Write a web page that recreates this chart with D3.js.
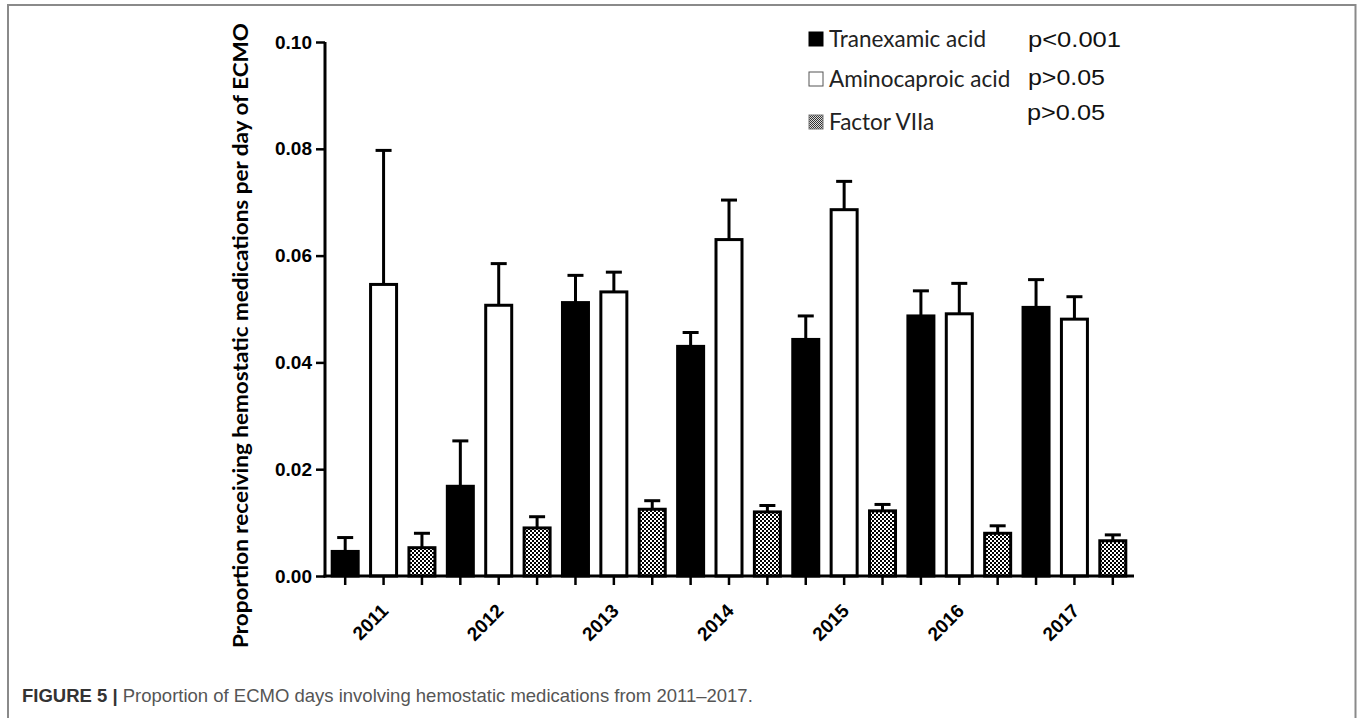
<!DOCTYPE html>
<html><head><meta charset="utf-8">
<script src="https://cdn.jsdelivr.net/npm/d3@7"></script>
<style>
html,body{margin:0;padding:0;background:#fff;}
svg{display:block;}
</style></head>
<body>
<svg id="chart" width="1360" height="718"></svg>
<script>
// ---------- data ----------
const years = ["2011","2012","2013","2014","2015","2016","2017"];
const seriesNames = ["Tranexamic acid","Aminocaproic acid","Factor VIIa"];
const pValues = ["p<0.001","p>0.05","p>0.05"];
const tranexamic    = [0.0046, 0.0168, 0.0512, 0.0430, 0.0443, 0.0487, 0.0503];
const tranexamicErr = [0.0026, 0.0085, 0.0051, 0.0026, 0.0044, 0.0047, 0.0052];
const aminocaproic    = [0.0546, 0.0507, 0.0532, 0.0630, 0.0686, 0.0491, 0.0481];
const aminocaproicErr = [0.0251, 0.0078, 0.0037, 0.0074, 0.0053, 0.0057, 0.0042];
const factor7    = [0.0053, 0.0090, 0.0125, 0.0120, 0.0122, 0.0080, 0.0066];
const factor7Err = [0.0027, 0.0021, 0.0016, 0.0012, 0.0012, 0.0014, 0.0011];
const yTicks = [0.00, 0.02, 0.04, 0.06, 0.08, 0.10];
const yTitle = "Proportion receiving hemostatic medications per day of ECMO";
const captionBold = "FIGURE 5 |";
const captionText = " Proportion of ECMO days involving hemostatic medications from 2011\u20132017.";

const seriesVals = [tranexamic, aminocaproic, factor7];
const seriesErrs = [tranexamicErr, aminocaproicErr, factor7Err];
const rows = [];
years.forEach((yr, i) => seriesNames.forEach((s, j) => rows.push({year: yr, series: s, sIdx: j, v: seriesVals[j][i], e: seriesErrs[j][i]})));

// ---------- setup ----------
const svg = d3.select("#chart");
const defs = svg.append("defs");
const pat = defs.append("pattern").attr("id","checker").attr("patternUnits","userSpaceOnUse")
  .attr("width",4).attr("height",4);
pat.append("rect").attr("width",4).attr("height",4).attr("fill","#fff");
pat.append("rect").attr("width",2).attr("height",2).attr("fill","#000");
pat.append("rect").attr("x",2).attr("y",2).attr("width",2).attr("height",2).attr("fill","#000");
const pat2 = defs.append("pattern").attr("id","checkerSmall").attr("patternUnits","userSpaceOnUse")
  .attr("width",2).attr("height",2);
pat2.append("rect").attr("width",2).attr("height",2).attr("fill","#ddd");
pat2.append("rect").attr("width",1).attr("height",1).attr("fill","#333");
pat2.append("rect").attr("x",1).attr("y",1).attr("width",1).attr("height",1).attr("fill","#333");

// frame
svg.append("path").attr("d","M8,718 V5 H1355.5 V718").attr("fill","none").attr("stroke","#8a8a8a").attr("stroke-width",2);

const x0 = d3.scaleBand().domain(years).range([326, 1132]).paddingInner(0).paddingOuter(0);
const x1 = d3.scaleBand().domain(seriesNames).range([0, x0.bandwidth()]).paddingInner(0).paddingOuter(0);
const y = d3.scaleLinear().domain([0, 0.10]).range([576, 42]);
const barW = 26;
const fills = ["#000", "#fff", "url(#checker)"];

// bars
const g = svg.append("g");
const cx = d => x0(d.year) + x1(d.series) + x1.bandwidth()/2;
// error bars (upper only)
g.selectAll("line.err").data(rows).join("line").attr("class","err")
  .attr("x1", cx).attr("x2", cx).attr("y1", d => y(d.v)).attr("y2", d => y(d.v + d.e))
  .attr("stroke","#000").attr("stroke-width",3);
g.selectAll("line.cap").data(rows).join("line").attr("class","cap")
  .attr("x1", d => cx(d) - 8).attr("x2", d => cx(d) + 8).attr("y1", d => y(d.v + d.e)).attr("y2", d => y(d.v + d.e))
  .attr("stroke","#000").attr("stroke-width",3);
g.selectAll("rect.bar").data(rows).join("rect").attr("class","bar")
  .attr("x", d => cx(d) - barW/2).attr("width", barW)
  .attr("y", d => y(d.v)).attr("height", d => y(0) - y(d.v))
  .attr("fill", d => fills[d.sIdx]).attr("stroke","#000").attr("stroke-width",3);

// y axis
const yAxis = d3.axisLeft(y).tickValues(yTicks).tickFormat(d3.format(".2f")).tickSize(9).tickPadding(4);
const ya = svg.append("g").attr("transform","translate(325,0)").call(yAxis);
ya.select(".domain").attr("stroke","#000").attr("stroke-width",3).attr("d","M0,42V577.5");
ya.selectAll(".tick line").attr("stroke","#000").attr("stroke-width",2.5);
ya.selectAll(".tick text").attr("font-family","'Liberation Sans', Arial, sans-serif").attr("font-weight","bold")
  .attr("font-size",19).attr("fill","#000");

// x axis (ticks at every bar)
const xAxisG = svg.append("g");
xAxisG.append("line").attr("x1",323.5).attr("x2",1134).attr("y1",576).attr("y2",576).attr("stroke","#000").attr("stroke-width",3);
xAxisG.selectAll("line.xt").data(rows).join("line").attr("class","xt")
  .attr("x1", cx).attr("x2", cx).attr("y1",576).attr("y2",585).attr("stroke","#000").attr("stroke-width",2.5);
xAxisG.selectAll("text.xl").data(years).join("text").attr("class","xl")
  .attr("transform", d => `translate(${x0(d) + x0.bandwidth()/2 + 6},612) rotate(-45)`)
  .attr("text-anchor","end")
  .attr("font-family","'Liberation Sans', Arial, sans-serif").attr("font-weight","bold").attr("font-size",19)
  .attr("fill","#000").text(d => d);

// y title
const yt = svg.append("text").attr("transform","translate(248,335.5) rotate(-90)")
  .attr("text-anchor","middle").attr("font-family","Lato, 'Open Sans', sans-serif").attr("font-weight","bold")
  .attr("font-size",21.5).attr("fill","#000").text(yTitle);
yt.attr("textLength",625).attr("lengthAdjust","spacingAndGlyphs");

// legend
const legendBaselines = [47, 87, 130];
const legendFills = ["#000", "#fff", "url(#checkerSmall)"];
const lg = svg.append("g");
seriesNames.forEach((s, i) => {
  lg.append("rect").attr("x", 809).attr("y", legendBaselines[i] - 15).attr("width", 14).attr("height", 14)
    .attr("fill", legendFills[i]).attr("stroke", i === 1 ? "#555" : (i===2?"#777":"#000")).attr("stroke-width", 1);
  lg.append("text").attr("x", 829).attr("y", legendBaselines[i])
    .attr("font-family","Lato, 'Open Sans', sans-serif").attr("font-size",22.5).attr("fill","#222").text(s);
});
const pBaselines = [47, 85, 120];
const pX = [1028, 1028, 1027];
const pLen = [93, 77, 78];
pValues.forEach((p, i) => {
  lg.append("text").attr("x", pX[i]).attr("y", pBaselines[i])
    .attr("font-family","'Liberation Sans', Arial, sans-serif").attr("font-size",22).attr("fill","#111")
    .attr("textLength", pLen[i]).attr("lengthAdjust","spacingAndGlyphs").text(p);
});

// caption
const cap = svg.append("text").attr("x",22).attr("y",702)
  .attr("font-family","'Liberation Sans', Arial, sans-serif").attr("font-size",18.5);
cap.append("tspan").attr("font-weight","bold").attr("fill","#333").text(captionBold);
cap.append("tspan").attr("fill","#555").text(captionText);
</script>
</body></html>
